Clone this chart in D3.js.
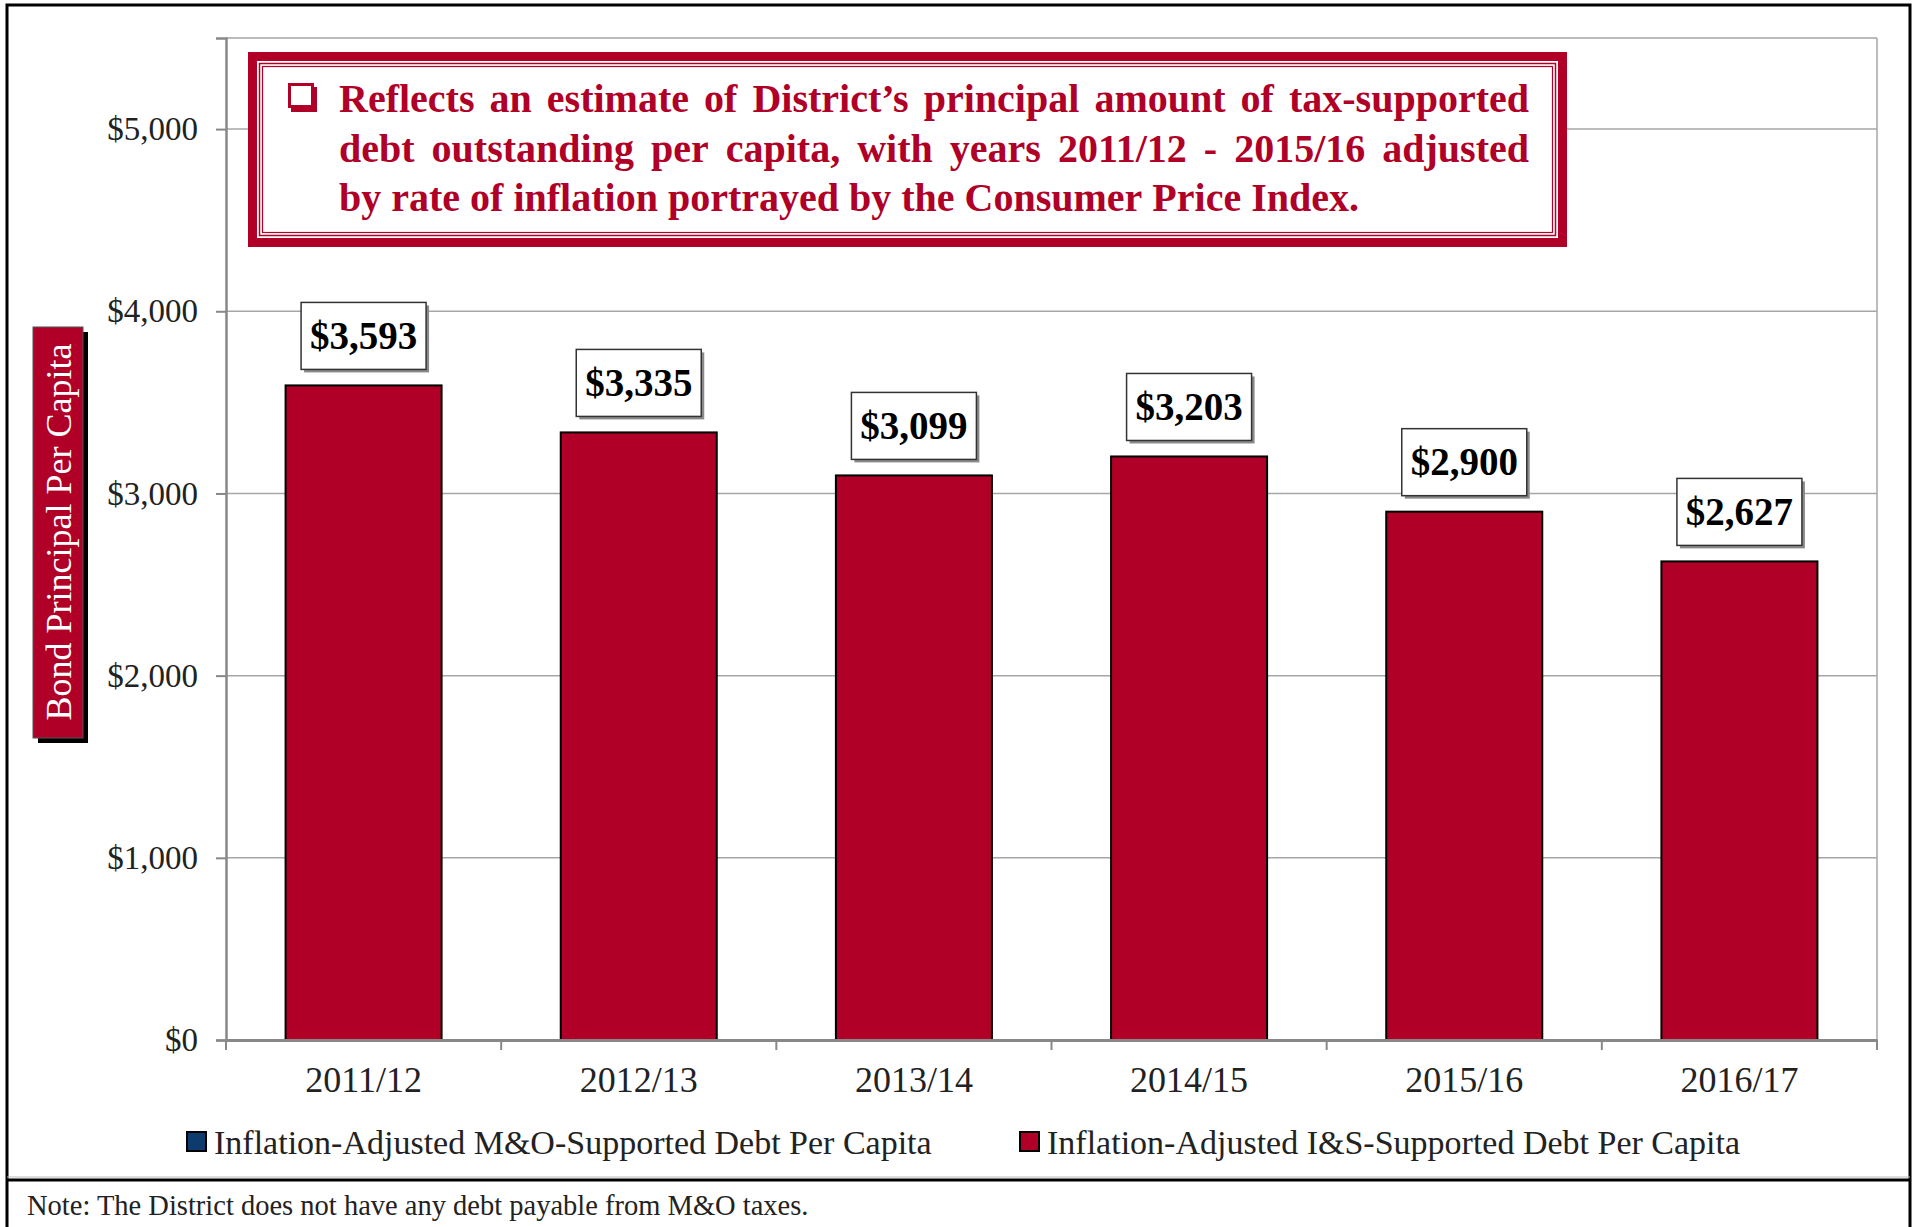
<!DOCTYPE html>
<html>
<head>
<meta charset="utf-8">
<script src="https://cdn.jsdelivr.net/npm/d3@7"></script>
<style>
  body { margin: 0; background: #fff; }
  text { font-family: "Liberation Serif", "Times New Roman", serif; }
</style>
</head>
<body>
<div id="chart"></div>
<script>
// chart data
var years = ["2011/12", "2012/13", "2013/14", "2014/15", "2015/16", "2016/17"];
var isDebt = [3593, 3335, 3099, 3203, 2900, 2627];   // I&S supported, per capita
var moDebt = [0, 0, 0, 0, 0, 0];                     // M&O supported (none)
var yTicks = [0, 1000, 2000, 3000, 4000, 5000];
var legendNames = ["Inflation-Adjusted M&O-Supported Debt Per Capita",
                   "Inflation-Adjusted I&S-Supported Debt Per Capita"];
var noteLines = [
    "Reflects an estimate of District\u2019s principal amount of tax-supported",
    "debt outstanding per capita, with years 2011/12 - 2015/16 adjusted",
    "by rate of inflation portrayed by the Consumer Price Index."
];

var svgWidth = 1915;
var svgHeight = 1227;

var margin = { top: 38, right: 38, bottom: 187, left: 226 };
var width = svgWidth - margin.left - margin.right;
var height = svgHeight - margin.top - margin.bottom;

var red = "#B00027";
var blue = "#0D3B6E";
var gridGray = "#A6A6A6";
var axisGray = "#888888";

var svg = d3.select("#chart")
    .append("svg")
    .attr("width", svgWidth)
    .attr("height", svgHeight);

svg.append("rect")
    .attr("width", svgWidth)
    .attr("height", svgHeight)
    .attr("fill", "#fff");

// outer frame + note separator
svg.append("rect")
    .attr("x", 7).attr("y", 5)
    .attr("width", 1903).attr("height", 1260)
    .attr("fill", "none").attr("stroke", "#000").attr("stroke-width", 3);
svg.append("line")
    .attr("x1", 7).attr("x2", 1910)
    .attr("y1", 1177).attr("y2", 1177)
    .attr("stroke", "#bbb").attr("stroke-width", 1);
svg.append("line")
    .attr("x1", 7).attr("x2", 1910)
    .attr("y1", 1180).attr("y2", 1180)
    .attr("stroke", "#000").attr("stroke-width", 3);

var chartGroup = svg.append("g")
    .attr("transform", `translate(${margin.left}, ${margin.top})`);

// scales
var x = d3.scaleBand().domain(years).range([0, width]).padding(0);
var y = d3.scaleLinear().domain([0, 5500]).range([height, 0]);
var barW = x.bandwidth() * 0.567;

// plot area border (top, right)
chartGroup.append("line")
    .attr("x1", 0).attr("x2", width).attr("y1", 0).attr("y2", 0)
    .attr("stroke", gridGray).attr("stroke-width", 1.5);
chartGroup.append("line")
    .attr("x1", width).attr("x2", width).attr("y1", 0).attr("y2", height)
    .attr("stroke", gridGray).attr("stroke-width", 1.5);

// gridlines
chartGroup.selectAll(".grid")
    .data(yTicks.filter(function (d) { return d > 0; }))
    .enter().append("line")
    .attr("class", "grid")
    .attr("x1", 0).attr("x2", width)
    .attr("y1", function (d) { return y(d); })
    .attr("y2", function (d) { return y(d); })
    .attr("stroke", gridGray).attr("stroke-width", 1.5);

// y axis
var leftAxis = d3.axisLeft(y)
    .tickValues(yTicks)
    .tickSize(10)
    .tickPadding(18)
    .tickFormat(function (d) { return "$" + d3.format(",")(d); });

var yAxisG = chartGroup.append("g").call(leftAxis);
yAxisG.select(".domain").attr("stroke", axisGray).attr("stroke-width", 2.5);
yAxisG.selectAll(".tick line").attr("stroke", axisGray).attr("stroke-width", 2);
yAxisG.selectAll(".tick text")
    .style("font-family", "'Liberation Serif', serif")
    .style("font-size", "33px")
    .attr("fill", "#222");

// bars
chartGroup.selectAll(".bar")
    .data(isDebt)
    .enter().append("rect")
    .attr("class", "bar")
    .attr("x", function (d, i) { return x(years[i]) + (x.bandwidth() - barW) / 2; })
    .attr("y", function (d) { return y(d); })
    .attr("width", barW)
    .attr("height", function (d) { return height - y(d); })
    .attr("fill", red)
    .attr("stroke", "#000")
    .attr("stroke-width", 2);

// x axis
var bottomAxis = d3.axisBottom(x).tickSize(0).tickPadding(26);
var xAxisG = chartGroup.append("g")
    .attr("transform", `translate(0, ${height})`)
    .call(bottomAxis);
xAxisG.select(".domain").attr("stroke", axisGray).attr("stroke-width", 3);
xAxisG.selectAll(".tick text")
    .style("font-family", "'Liberation Serif', serif")
    .style("font-size", "36px")
    .attr("fill", "#222");

// boundary ticks under the x axis
chartGroup.selectAll(".xb")
    .data(d3.range(years.length + 1))
    .enter().append("line")
    .attr("class", "xb")
    .attr("x1", function (i) { return i * x.step(); })
    .attr("x2", function (i) { return i * x.step(); })
    .attr("y1", height).attr("y2", height + 10)
    .attr("stroke", axisGray).attr("stroke-width", 2);

// value label boxes
var boxW = 125, boxH = 67, boxGap = 16;
var labels = chartGroup.selectAll(".vlab")
    .data(isDebt)
    .enter().append("g")
    .attr("class", "vlab")
    .attr("transform", function (d, i) {
        var cx = x(years[i]) + x.bandwidth() / 2;
        return `translate(${cx}, ${y(d) - boxGap - boxH})`;
    });
labels.append("rect")
    .attr("x", -boxW / 2 + 3).attr("y", 3)
    .attr("width", boxW).attr("height", boxH)
    .attr("fill", "#8a8a8a");
labels.append("rect")
    .attr("x", -boxW / 2).attr("y", 0)
    .attr("width", boxW).attr("height", boxH)
    .attr("fill", "#fff").attr("stroke", "#333").attr("stroke-width", 1.5);
labels.append("text")
    .attr("x", 0).attr("y", boxH / 2 + 13)
    .style("text-anchor", "middle")
    .style("font-size", "39px")
    .style("font-weight", "bold")
    .attr("fill", "#000")
    .text(function (d) { return "$" + d3.format(",")(d); });

// annotation box
var ann = svg.append("g");
ann.append("rect")
    .attr("x", 252.5).attr("y", 56.5).attr("width", 1310).attr("height", 186)
    .attr("fill", "#fff").attr("stroke", red).attr("stroke-width", 9);
ann.append("rect")
    .attr("x", 259.5).attr("y", 63.5).attr("width", 1296).attr("height", 172)
    .attr("fill", "none").attr("stroke", red).attr("stroke-width", 1.5);
ann.append("rect")
    .attr("x", 262.5).attr("y", 66.5).attr("width", 1290).attr("height", 166)
    .attr("fill", "none").attr("stroke", red).attr("stroke-width", 1.2);

// checkbox bullet
ann.append("rect")
    .attr("x", 291).attr("y", 87).attr("width", 26).attr("height", 25)
    .attr("fill", red);
ann.append("rect")
    .attr("x", 289.5).attr("y", 84.5).attr("width", 23).attr("height", 22)
    .attr("fill", "#fff").attr("stroke", red).attr("stroke-width", 3);

var annText = ann.append("g")
    .attr("fill", red)
    .style("font-size", "40px")
    .style("font-weight", "bold");

function setLine(str, yPos, x0, x1, justify) {
    var words = str.split(" ");
    var nodes = words.map(function (w) {
        return annText.append("text").attr("y", yPos).text(w);
    });
    var widths = nodes.map(function (n) { return n.node().getComputedTextLength(); });
    var gap = justify ? (x1 - x0 - d3.sum(widths)) / (words.length - 1) : 10;
    var xPos = x0;
    nodes.forEach(function (n, i) {
        n.attr("x", xPos);
        xPos += widths[i] + gap;
    });
}
setLine(noteLines[0], 112, 339, 1529, true);
setLine(noteLines[1], 162, 339, 1529, true);
setLine(noteLines[2], 211, 339, 1529, false);

// y axis title box
svg.append("rect")
    .attr("x", 38).attr("y", 332).attr("width", 50).attr("height", 411)
    .attr("fill", "#000");
svg.append("rect")
    .attr("x", 33).attr("y", 327).attr("width", 50).attr("height", 411)
    .attr("fill", red).attr("stroke", "#555").attr("stroke-width", 1);
svg.append("text")
    .attr("transform", "translate(58, 532) rotate(-90)")
    .attr("dy", "0.35em")
    .style("text-anchor", "middle")
    .style("font-size", "36px")
    .attr("fill", "#fff")
    .text("Bond Principal Per Capita");

// legend
var legendData = [
    { name: legendNames[0], color: blue, sx: 187, tx: 214, vals: moDebt },
    { name: legendNames[1], color: red, sx: 1020, tx: 1047, vals: isDebt }
];
var legend = svg.selectAll(".legend")
    .data(legendData)
    .enter().append("g")
    .attr("class", "legend");
legend.append("rect")
    .attr("x", function (d) { return d.sx; })
    .attr("y", 1132)
    .attr("width", 19).attr("height", 19)
    .attr("fill", function (d) { return d.color; })
    .attr("stroke", "#000").attr("stroke-width", 2);
legend.append("text")
    .attr("x", function (d) { return d.tx; })
    .attr("y", 1154)
    .style("font-size", "34px")
    .attr("fill", "#222")
    .text(function (d) { return d.name; });

// footnote
svg.append("text")
    .attr("x", 27).attr("y", 1215)
    .style("font-size", "28.5px")
    .attr("fill", "#222")
    .text("Note: The District does not have any debt payable from M&O taxes.");
</script>
</body>
</html>
